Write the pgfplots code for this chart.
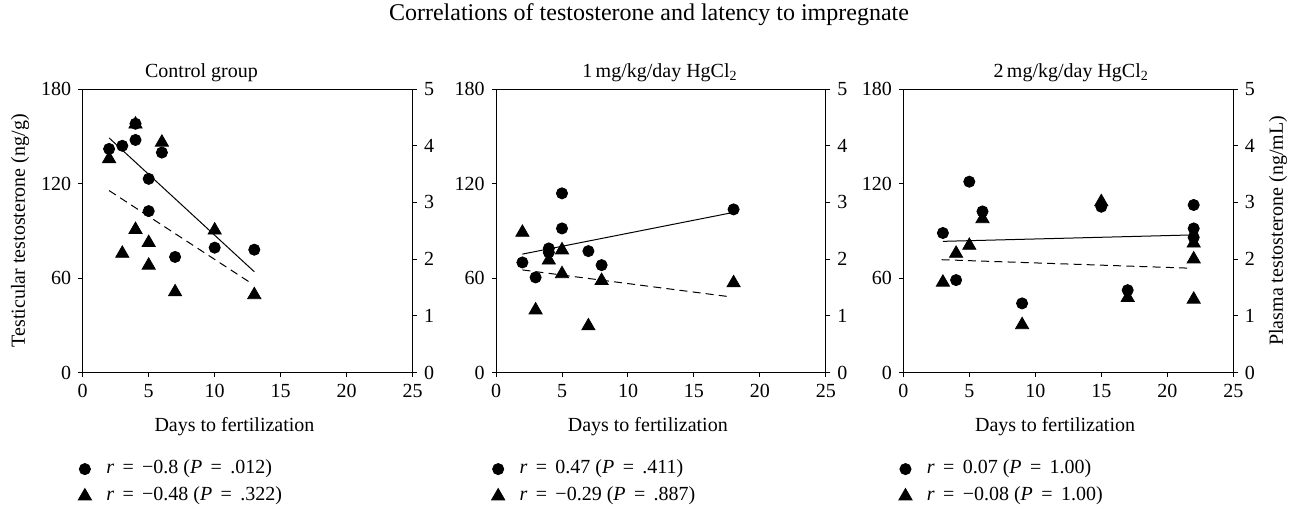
\documentclass[border=0pt]{standalone}
\usepackage{fontspec}
\setmainfont{Liberation Serif}
\usepackage{pgfplots}
\pgfplotsset{compat=1.18}
\newcommand\eq{\hspace{0.42em}=\hspace{0.42em}}

\pgfplotsset{
  panel/.style={
    scale only axis, width=165pt, height=141.7pt, anchor=south west,
    xmin=0, xmax=25, tick align=outside, major tick length=2.2pt,
    tick style={black, line width=0.5pt}, axis line style={line width=0.5pt},
    every tick label/.append style={font=\fontsize{10}{12}\selectfont},
    /pgf/number format/assume math mode=true,
    every axis title/.style={anchor=center, font=\fontsize{10}{12}\selectfont},
    every axis x label/.style={at={(axis description cs:0.46,-0.1923)}, anchor=center, font=\fontsize{10}{12}\selectfont},
  },
  rightax/.style={panel, axis x line=none, axis y line*=right,
    ymin=0, ymax=5, ytick={0,1,2,3,4,5}},
  leftax/.style={panel, ymin=0, ymax=180, ytick={0,60,120,180},
    xtick={0,5,10,15,20,25}, xtick pos=left, ytick pos=left,
    xlabel={Days to fertilization},
    legend style={draw=none, fill=none, inner sep=0pt, outer sep=0pt,
      at={(axis description cs:0,0)}, anchor=north west, xshift=-2.2pt, yshift=-43.5pt,
      nodes={inner sep=0pt, text height=7.2pt, text depth=2.4pt},
      row sep=3.9pt, font=\fontsize{10}{12}\selectfont,
      /tikz/every odd column/.append style={column sep=7.4pt}},
    legend cell align=left},
  circ/.style={only marks, mark=*, mark size=2.8pt, black,
    legend image code/.code={\draw[##1] plot coordinates {(0pt,0pt)};}},
  tri/.style={only marks, mark=triangle*, mark size=3.8pt, black,
    legend image code/.code={\draw[##1] plot coordinates {(0pt,0pt)};}},
  fitsolid/.style={black, line width=0.5pt, no marks, forget plot},
  fitdash/.style={black, line width=0.5pt, no marks, dash pattern=on 4pt off 2.6pt, forget plot},
}

\begin{document}
\begin{tikzpicture}
\path[use as bounding box] (0,0) rectangle (649pt,-254.5pt);
\node[font=\fontsize{12}{14}\selectfont] at (324.5pt,-7.5pt) {Correlations of testosterone and latency to impregnate};

% ---------------- Panel 1: Control group ----------------
\begin{axis}[rightax, at={(41.35pt,-186.25pt)}]
\addplot[tri] coordinates {(2,3.77) (3,2.10) (4,4.38) (4,2.52) (5,2.29) (5,1.89) (6,4.06) (7,1.42) (10,2.51) (13,1.37)};
\addplot[fitdash] coordinates {(2,3.21) (12.8,1.57)};
\end{axis}
\begin{axis}[leftax, at={(41.35pt,-186.25pt)},
  title={Control group}, title style={at={(axis description cs:0.36,1.059)}},
  ylabel={Testicular testosterone (ng/g)},
  every axis y label/.style={at={(axis description cs:-0.19,0.5)}, anchor=center, rotate=90, font=\fontsize{10}{12}\selectfont}]
\addplot[fitsolid] coordinates {(2,149) (13,64)};
\addplot[circ] coordinates {(2,142) (3,144) (4,158) (4,147.7) (5,123) (5,102.5) (6,139.7) (7,73.4) (10,79.3) (13,78)};
\addlegendentry{\textit{r}\eq−0.8 (\textit{P}\eq.012)}
\addlegendimage{tri}
\addlegendentry{\textit{r}\eq−0.48 (\textit{P}\eq.322)}
\end{axis}

% ---------------- Panel 2: 1 mg/kg/day ----------------
\begin{axis}[rightax, at={(248pt,-186.25pt)}]
\addplot[tri] coordinates {(2,2.47) (3,1.10) (4,1.98) (5,2.16) (5,1.74) (7,0.82) (8,1.62) (18,1.58)};
\addplot[fitdash] coordinates {(2,1.81) (17.6,1.34)};
\end{axis}
\begin{axis}[leftax, at={(248pt,-186.25pt)},
  title={1\,mg/kg/day HgCl\textsubscript{2}}, title style={at={(axis description cs:0.497,1.059)}}]
\addplot[fitsolid] coordinates {(2,75.2) (18,101.7)};
\addplot[circ] coordinates {(2,69.9) (3,60.4) (4,78.8) (4,76.3) (5,113.8) (5,91.5) (7,77.1) (8,68.2) (18,103.6)};
\addlegendentry{\textit{r}\eq0.47 (\textit{P}\eq.411)}
\addlegendimage{tri}
\addlegendentry{\textit{r}\eq−0.29 (\textit{P}\eq.887)}
\end{axis}

% ---------------- Panel 3: 2 mg/kg/day ----------------
\begin{axis}[rightax, at={(451.65pt,-186.25pt)},
  ylabel={Plasma testosterone (ng/mL)},
  every axis y label/.style={at={(axis description cs:1.1355,0.5)}, anchor=center, rotate=90, font=\fontsize{10}{12}\selectfont}]
\addplot[tri] coordinates {(3,1.59) (4,2.10) (5,2.24) (6,2.71) (9,0.84) (15,3.01) (17,1.32) (22,2.28) (22,2.00) (22,1.29)};
\addplot[fitdash] coordinates {(2.9,1.99) (21.8,1.84)};
\end{axis}
\begin{axis}[leftax, at={(451.65pt,-186.25pt)},
  title={2\,mg/kg/day HgCl\textsubscript{2}}, title style={at={(axis description cs:0.509,1.059)}}]
\addplot[fitsolid] coordinates {(3,83.3) (22,87.4)};
\addplot[circ] coordinates {(3,88.6) (4,58.7) (5,121.2) (6,102.3) (9,43.9) (15,105.3) (17,52.3) (22,106.4) (22,91.5) (22,85.8)};
\addlegendentry{\textit{r}\eq0.07 (\textit{P}\eq1.00)}
\addlegendimage{tri}
\addlegendentry{\textit{r}\eq−0.08 (\textit{P}\eq1.00)}
\end{axis}
\end{tikzpicture}
\end{document}
